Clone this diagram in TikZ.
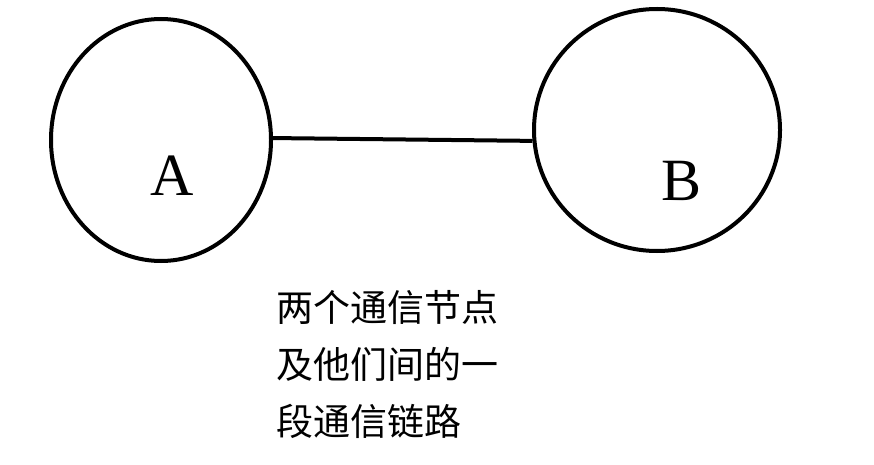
\documentclass[tikz,border=0pt]{standalone}
\usepackage{fontspec}
\setmainfont{Liberation Serif}
\newfontfamily\cjk{Noto Sans CJK SC}
\usetikzlibrary{shapes.geometric}

\begin{document}
\begin{tikzpicture}[
  x=1pt, y=-1pt,
  station/.style={draw, ellipse, line width=4pt, inner sep=0pt},
  link/.style={line width=4pt},
  lab/.style={font=\fontsize{60}{60}\selectfont, inner sep=0pt},
  note/.style={font=\cjk\fontsize{37}{57}\selectfont, align=left, inner sep=0pt, anchor=north west}
]
\useasboundingbox (0,0) rectangle (874,465);

% ---------------- the two nodes ----------------
\node[station, minimum width=220pt, minimum height=242pt] (A) at (161,140) {};
\node[station, minimum width=246pt, minimum height=242pt] (B) at (657,130) {};
\node[lab] (labA) at (172,176) {A};
\node[lab] (labB) at (681,181) {B};

% ---------------- the link ----------------
\draw[link] (A.1) -- (B.185);

% ---------------- caption ----------------
\node[note] (cap) at (276,290) {两个通信节点\\及他们间的一\\段通信链路};

\end{tikzpicture}
\end{document}
